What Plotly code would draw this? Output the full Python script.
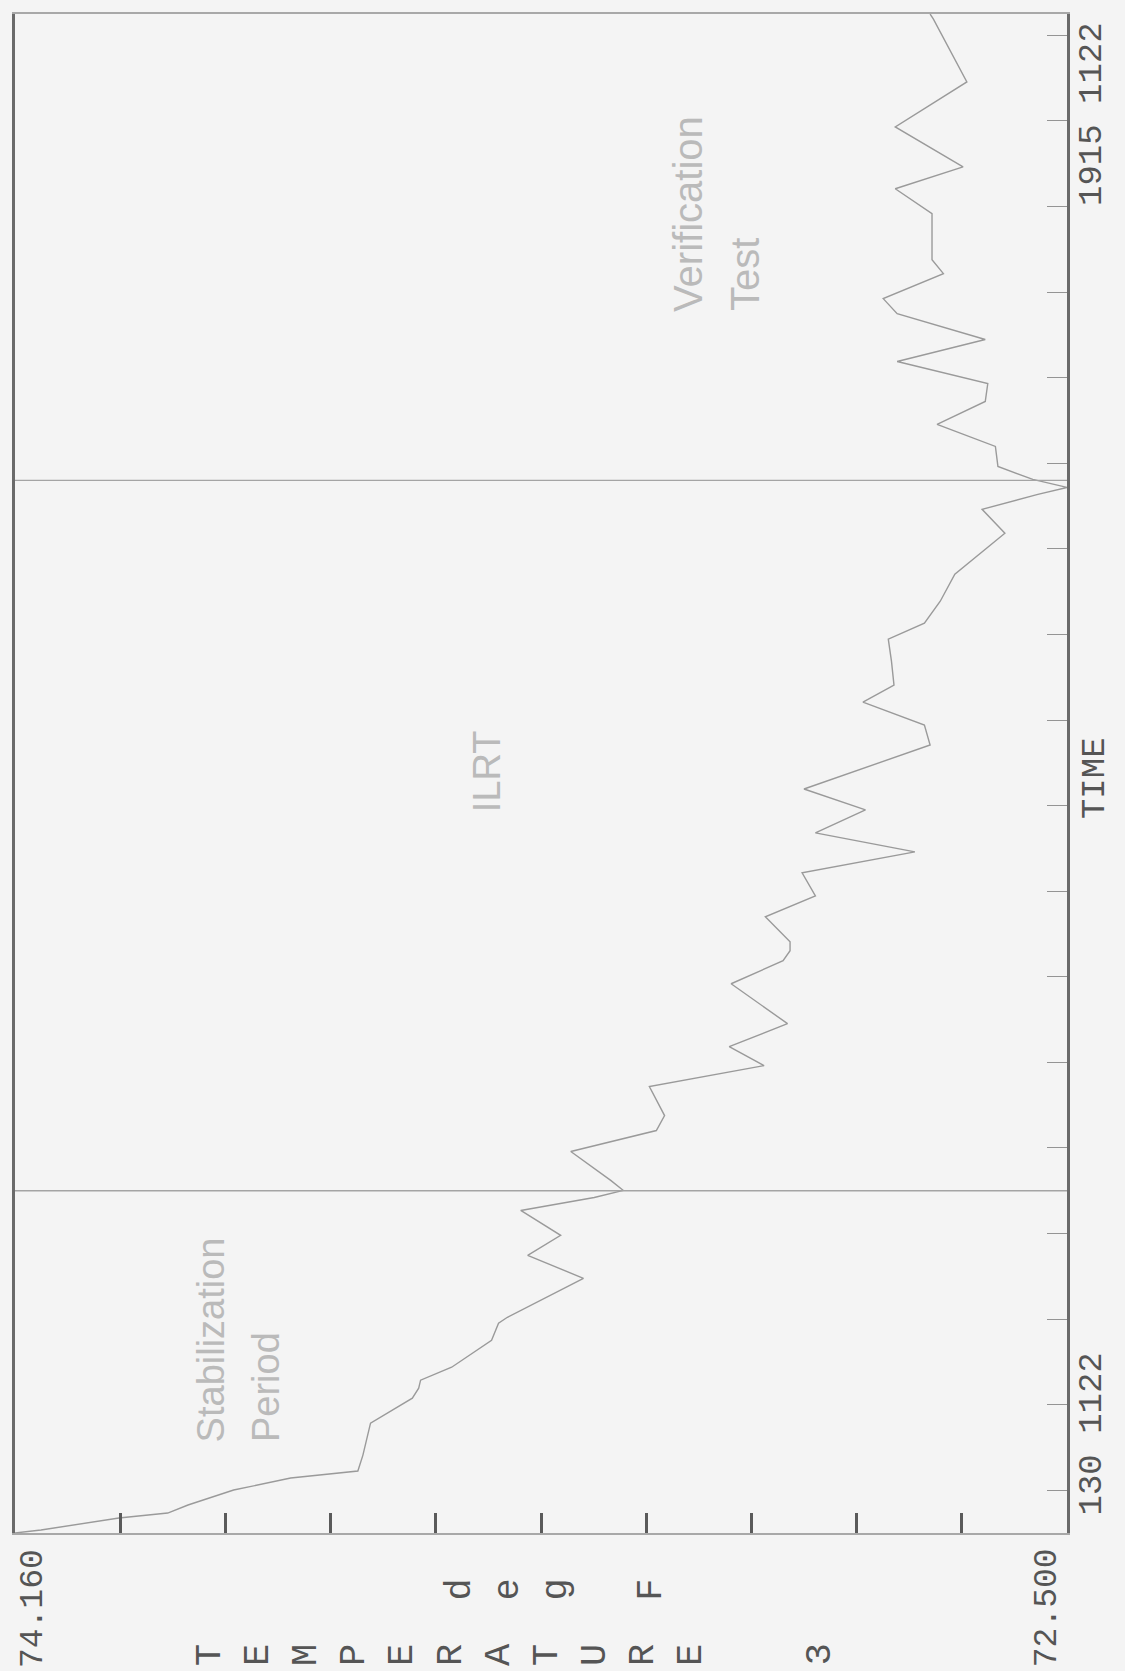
import plotly.graph_objects as go

# ---- data (temperature in deg F vs. time in hours on 11/22) ----
time_h = [1.50, 1.535, 1.675, 1.733, 1.827, 2.002, 2.142, 2.224, 2.410, 2.585,
          2.784, 3.075, 3.192, 3.286, 3.437, 3.752, 3.951, 4.021, 4.476, 4.744,
          4.978, 5.269, 5.421, 5.503, 5.620, 5.958, 6.203, 6.378, 6.716, 6.962,
          7.183, 7.452, 7.918, 8.187, 8.304, 8.409, 8.700, 8.945, 9.214, 9.459,
          9.681, 9.949, 10.194, 10.708, 10.941, 11.209, 11.408, 11.688, 11.945, 12.131,
          12.388, 12.703, 13.182, 13.462, 13.637, 13.718, 13.812, 13.963, 14.197, 14.454,
          14.722, 14.932, 15.189, 15.446, 15.749, 15.924, 16.216, 16.379, 16.916, 17.208,
          17.464, 17.931, 18.456, 19.192, 19.25]
temp_f = [74.160, 74.119, 73.996, 73.919, 73.887, 73.815, 73.725, 73.619, 73.611, 73.605,
          73.599, 73.533, 73.523, 73.520, 73.471, 73.408, 73.397, 73.383, 73.263, 73.351,
          73.299, 73.362, 73.246, 73.200, 73.220, 73.283, 73.148, 73.135, 73.159, 72.978,
          73.033, 72.941, 73.030, 72.948, 72.937, 72.937, 72.976, 72.897, 72.918, 72.740,
          72.897, 72.818, 72.915, 72.716, 72.725, 72.822, 72.773, 72.777, 72.782, 72.725,
          72.700, 72.677, 72.598, 72.634, 72.546, 72.500, 72.554, 72.609, 72.613, 72.705,
          72.629, 72.625, 72.768, 72.629, 72.768, 72.790, 72.695, 72.713, 72.713, 72.771,
          72.664, 72.771, 72.658, 72.711, 72.716]

temp_range = [74.160, 72.500]
temp_ticks = [74.160, 73.994, 73.828, 73.662, 73.496, 73.330, 73.164, 72.998, 72.832, 72.666, 72.500]
time_range = [1.50, 19.25]
time_ticks = [2, 3, 4, 5, 6, 7, 8, 9, 10, 11, 12, 13, 14, 15, 16, 17, 18, 19]
phase_bounds = [5.5, 13.8]
temp_labels = ["74.160", "72.500"]
time_labels = ["130 1122", "1915 1122"]

MONO = "Liberation Mono, Courier New, monospace"
SANS = "Liberation Sans, Arial, sans-serif"
BG = "#f4f4f4"
TXT = "#555555"

fig = go.Figure()
fig.add_trace(go.Scatter(x=temp_f, y=time_h, mode="lines",
                         line=dict(color="#9a9a9a", width=1.4), showlegend=False,
                         hoverinfo="skip"))

for b in phase_bounds:
    fig.add_hline(y=b, line=dict(color="#a4a4a4", width=1.4))

fig.update_xaxes(range=temp_range, tickvals=temp_ticks, ticktext=[""] * len(temp_ticks),
                 ticks="inside", ticklen=20, tickwidth=2.5, tickcolor="#5a5a5a",
                 showline=True, mirror=True, linecolor="#a8a8a8", linewidth=1.5,
                 showgrid=False, zeroline=False)
fig.update_yaxes(range=time_range, tickvals=time_ticks, ticktext=[""] * len(time_ticks),
                 side="right", ticks="inside", ticklen=20, tickwidth=1, tickcolor="#949494",
                 showline=True, mirror=True, linecolor="#6a6a6a", linewidth=2.5,
                 showgrid=False, zeroline=False)

mono34 = dict(family=MONO, size=34, color=TXT)
mono37 = dict(family=MONO, size=37, color=TXT)
ann = []
# temperature end labels
ann.append(dict(text=temp_labels[0], x=0.017, y=-0.009, xref="paper", yref="paper",
                xanchor="center", yanchor="top", textangle=-90,
                font=dict(family=MONO, size=33, color=TXT), showarrow=False))
ann.append(dict(text=temp_labels[1], x=0.981, y=-0.009, xref="paper", yref="paper",
                xanchor="center", yanchor="top", textangle=-90,
                font=dict(family=MONO, size=33, color=TXT), showarrow=False))
# time end labels
ann.append(dict(text=time_labels[0], x=1.0237, y=0.0105, xref="paper", yref="paper",
                xanchor="center", yanchor="bottom", textangle=-90,
                font=mono34, showarrow=False))
ann.append(dict(text=time_labels[1], x=1.0237, y=0.996, xref="paper", yref="paper",
                xanchor="center", yanchor="top", textangle=-90,
                font=mono34, showarrow=False))
ann.append(dict(text="TIME", x=1.0266, y=0.497, xref="paper", yref="paper",
                xanchor="center", yanchor="middle", textangle=-90,
                font=mono34, showarrow=False))
# stacked axis title
ann.append(dict(text="<br>".join(list("TEMPERATURE")), x=0.414, y=-0.08,
                xref="paper", yref="paper", xanchor="center", yanchor="middle",
                textangle=-90, font=mono37, showarrow=False))
ann.append(dict(text="<br>".join(list("deg")), x=0.469, y=-0.037,
                xref="paper", yref="paper", xanchor="center", yanchor="middle",
                textangle=-90, font=mono37, showarrow=False))
ann.append(dict(text="F", x=0.605, y=-0.037,
                xref="paper", yref="paper", xanchor="center", yanchor="middle",
                textangle=-90, font=mono37, showarrow=False))
ann.append(dict(text="3", x=0.765, y=-0.08,
                xref="paper", yref="paper", xanchor="center", yanchor="middle",
                textangle=-90, font=mono37, showarrow=False))
# phase labels
for txt, xv, yv, fs in [("Stabilization", 73.851, 2.539, 38), ("Period", 73.764, 2.539, 38),
                        ("Verification", 73.099, 15.75, 40), ("Test", 73.008, 15.75, 40)]:
    ann.append(dict(text=txt, x=xv, y=yv, xref="x", yref="y", xanchor="center",
                    yanchor="bottom", textangle=-90,
                    font=dict(family=SANS, size=fs, color="#bababa"), showarrow=False))
ann.append(dict(text="ILRT", x=73.414, y=10.40, xref="x", yref="y", xanchor="center",
                yanchor="middle", textangle=-90,
                font=dict(family=SANS, size=38, color="#bababa"), showarrow=False))

fig.update_layout(width=1125, height=1671, margin=dict(l=14, r=58, t=12, b=138),
                  paper_bgcolor=BG, plot_bgcolor=BG, annotations=ann,
                  showlegend=False)

fig.write_html("out.html", config={"displayModeBar": False},
               post_script="document.body.style.margin='0';document.body.style.overflow='hidden';")
